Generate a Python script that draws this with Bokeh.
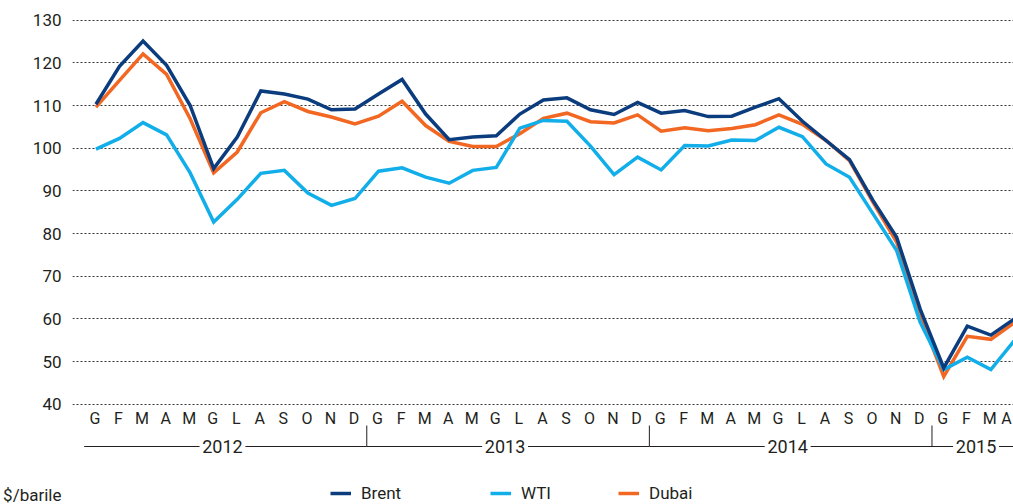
from bokeh.plotting import figure
from bokeh.models import Range1d, FixedTicker, Legend, LegendItem
from bokeh.core.properties import value
from bokeh.embed import file_html
from bokeh.resources import INLINE

# ---------------- data ----------------
months = ["G", "F", "M", "A", "M", "G", "L", "A", "S", "O", "N", "D"]
years = ["2012", "2013", "2014", "2015"]
months_per_year = [12, 12, 12, 4]

brent = [110.3, 119.2, 125.1, 119.4, 110.0, 95.2, 102.6, 113.4, 112.7, 111.5, 109.0, 109.2,
         112.7, 116.1, 108.0, 102.0, 102.6, 102.9, 108.0, 111.3, 111.8, 109.0, 107.9, 110.7,
         108.2, 108.8, 107.4, 107.5, 109.6, 111.6, 106.3, 101.8, 97.3, 87.7, 79.1, 62.3,
         48.5, 58.3, 56.2, 60.0]
wti = [99.8, 102.3, 106.0, 103.1, 94.2, 82.7, 88.0, 94.1, 94.8, 89.5, 86.6, 88.2,
       94.6, 95.4, 93.2, 91.8, 94.8, 95.5, 104.7, 106.5, 106.3, 100.5, 93.8, 97.9,
       94.9, 100.6, 100.5, 101.9, 101.8, 104.9, 102.7, 96.3, 93.2, 84.6, 76.0, 59.2,
       48.1, 51.0, 48.1, 54.9]
dubai = [109.6, 115.9, 122.1, 117.3, 106.9, 94.2, 99.1, 108.3, 110.9, 108.6, 107.3, 105.7,
         107.5, 111.0, 105.3, 101.6, 100.4, 100.4, 103.4, 107.0, 108.2, 106.2, 105.9, 107.8,
         104.0, 104.8, 104.1, 104.6, 105.5, 107.8, 105.6, 101.8, 97.1, 87.3, 78.0, 60.8,
         46.5, 55.9, 55.2, 59.1]
y_ticks = [40, 50, 60, 70, 80, 90, 100, 110, 120, 130]
series_names = ["Brent", "WTI", "Dubai"]
unit_label = "$/barile"

# ---------------- style / layout ----------------
FONT = "Roboto"
TXT = "#231f20"
C_BRENT = "#0b3c7d"
C_WTI = "#12aeea"
C_DUBAI = "#f26722"

W, H = 1013, 504
LEFT, TOP = 70, 12
STEP = 23.6            # px per month
FIRST = 23.5           # px from frame left to first month
PPU = 4.267            # px per $ unit
Y40 = 403.7            # canvas y of the 40 gridline
frame_w = W - LEFT
frame_h = H - TOP

x_start = -FIRST / STEP
x_range = Range1d(x_start, x_start + frame_w / STEP)
y_top = 40 + (Y40 - TOP) / PPU
y_range = Range1d(y_top - frame_h / PPU, y_top)


def y_at(cy):
    return 40 - (cy - Y40) / PPU


n = len(brent)
xs = list(range(n))

p = figure(width=W, height=H, x_range=x_range, y_range=y_range,
           output_backend="svg", toolbar_location=None, x_axis_location=None,
           min_border_left=LEFT, min_border_top=TOP, min_border_right=0,
           min_border_bottom=0, outline_line_color=None)

# y axis (the unit label sits in the axis column, at the bottom)
unit_tick = round(y_at(495), 3)
ya = p.yaxis[0]
ya.ticker = FixedTicker(ticks=[unit_tick] + y_ticks)
overrides = {t: str(t) for t in y_ticks}
overrides[unit_tick] = unit_label
ya.major_label_overrides = overrides
ya.axis_line_color = None
ya.major_tick_line_color = None
ya.minor_tick_line_color = None
ya.major_label_standoff = 5
ya.major_label_text_font = FONT
ya.major_label_text_font_size = "17px"
ya.major_label_text_color = TXT

p.xgrid.visible = False
p.ygrid.ticker = FixedTicker(ticks=y_ticks)
p.ygrid.grid_line_color = "#333333"
p.ygrid.grid_line_dash = "2 2"
p.ygrid.grid_line_width = 1

# series
r_dubai = p.line(xs, dubai, line_color=C_DUBAI, line_width=3.5, line_join="miter")
r_wti = p.line(xs, wti, line_color=C_WTI, line_width=3.5, line_join="miter")
r_brent = p.line(xs, brent, line_color=C_BRENT, line_width=3.5, line_join="miter")

# month labels
month_labels = [months[i % 12] for i in range(n)]
offsets = [-1] * n
offsets[-1] = -8
p.text(x=xs, y=[y_at(418)] * n, text=month_labels, text_align="center",
       text_baseline="middle", text_font=value(FONT), text_font_size="16px",
       text_color=TXT, x_offset=offsets)

# year row
starts, ends, centers = [], [], []
s = 0
for k, m in enumerate(months_per_year):
    starts.append(s - 0.5)
    ends.append(s + m - 0.5 if k < len(months_per_year) - 1 else x_range.end + 1)
    centers.append(s + (m - 1) / 2 - 3 / STEP)
    s += m
y_year = y_at(446)
gap = 23 / STEP
seg_x0, seg_x1 = [], []
for a, b, c in zip(starts, ends, centers):
    seg_x0 += [a, c + gap]
    seg_x1 += [c - gap, b]
p.segment(x0=seg_x0, y0=[y_year] * len(seg_x0), x1=seg_x1, y1=[y_year] * len(seg_x1),
          line_color=TXT, line_width=1)
seps = starts[1:]
p.segment(x0=seps, y0=[y_year] * len(seps), x1=seps, y1=[y_at(425)] * len(seps),
          line_color=TXT, line_width=1)
p.text(x=centers, y=[y_year] * len(centers), text=years, text_align="center",
       text_baseline="middle", text_font=value(FONT), text_font_size="18px",
       text_color=TXT)

# legends
for r, name, lx in [(r_brent, series_names[0], 258), (r_wti, series_names[1], 418),
                    (r_dubai, series_names[2], 546)]:
    lg = Legend(items=[LegendItem(label=name, renderers=[r])], location=(lx, 1),
                orientation="horizontal", padding=0, margin=0, spacing=0,
                glyph_width=21, glyph_height=18, label_height=18, label_standoff=10,
                label_text_font=FONT, label_text_font_size="17px",
                label_text_color=TXT, border_line_alpha=0, background_fill_alpha=0)
    p.add_layout(lg)

open("out.html", "w").write(file_html(p, INLINE))
